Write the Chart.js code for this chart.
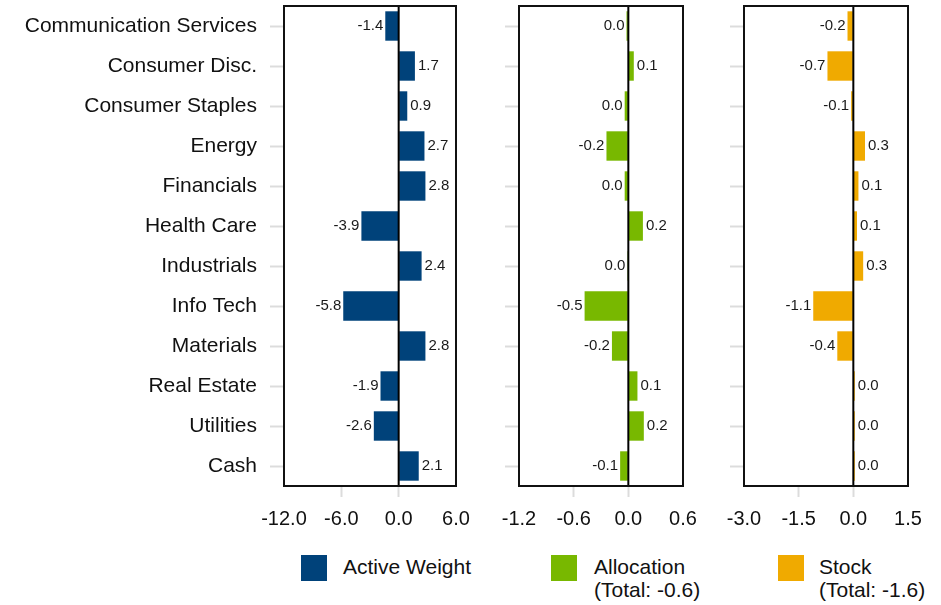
<!DOCTYPE html>
<html>
<head>
<meta charset="utf-8">
<title>Sector Attribution</title>
<script src="https://cdn.jsdelivr.net/npm/chart.js@4.4.1/dist/chart.umd.min.js"></script>
<style>
  body { margin: 0; background: #fff; font-family: "Liberation Sans", Arial, sans-serif; }
  #wrap { position: relative; width: 941px; height: 605px; overflow: hidden; }
  #wrap canvas { position: absolute; top: 0; }
  .swatch { position: absolute; top: 555px; width: 26px; height: 26px; }
  .key { position: absolute; top: 555px; font-size: 21px; line-height: 23px; color: #111; white-space: nowrap; }
</style>
</head>
<body>
<div id="wrap">
  <canvas id="weightChart" width="470" height="540" style="left:0px"></canvas>
  <canvas id="allocChart" width="230" height="540" style="left:470px"></canvas>
  <canvas id="stockChart" width="241" height="540" style="left:700px"></canvas>

  <div class="swatch" style="left:301px; background:#00427a"></div>
  <div class="key" id="keyWeight" style="left:343px"></div>
  <div class="swatch" style="left:551px; background:#78b800"></div>
  <div class="key" id="keyAlloc" style="left:594px"></div>
  <div class="swatch" style="left:778px; background:#f0aa00"></div>
  <div class="key" id="keyStock" style="left:819px"></div>
</div>

<script>
// sectors, top to bottom
const sectors = [
  'Communication Services', 'Consumer Disc.', 'Consumer Staples', 'Energy',
  'Financials', 'Health Care', 'Industrials', 'Info Tech',
  'Materials', 'Real Estate', 'Utilities', 'Cash'
];

// active weight vs benchmark (%)
const activeWeight = [-1.4, 1.7, 0.9, 2.7, 2.8, -3.9, 2.4, -5.8, 2.8, -1.9, -2.6, 2.1];
// allocation effect (%)
const allocation = [-0.02, 0.06, -0.04, -0.24, -0.04, 0.16, -0.01, -0.48, -0.18, 0.1, 0.17, -0.09];
// stock selection effect (%)
const stockSelection = [-0.16, -0.71, -0.06, 0.32, 0.14, 0.1, 0.27, -1.1, -0.44, 0.04, 0.04, 0.04];

const allocationTotal = -0.6;
const stockTotal = -1.6;

// x axis ranges: [min, max, step]
const weightTicks = [-12, 6, 6];
const allocTicks = [-1.2, 0.6, 0.6];
const stockTicks = [-3, 1.5, 1.5];

const FONT = '"Liberation Sans", Arial, sans-serif';

function fmt(v) {
  const s = v.toFixed(1);
  return s === '-0.0' ? '0.0' : s;
}

// zero line, value labels and the box round each panel
const panelDecor = {
  id: 'panelDecor',
  afterDatasetsDraw(chart) {
    const { ctx, chartArea, scales } = chart;
    const zeroX = scales.x.getPixelForValue(0);
    ctx.save();
    ctx.strokeStyle = '#000';
    ctx.lineWidth = 2;
    ctx.beginPath();
    ctx.moveTo(zeroX, chartArea.top);
    ctx.lineTo(zeroX, chartArea.bottom);
    ctx.stroke();

    ctx.font = '15px ' + FONT;
    ctx.fillStyle = '#1a1a1a';
    ctx.textBaseline = 'middle';
    const values = chart.data.datasets[0].data;
    chart.getDatasetMeta(0).data.forEach((bar, i) => {
      const v = values[i];
      if (v < 0) {
        ctx.textAlign = 'right';
        ctx.fillText(fmt(v), bar.x - 2, bar.y);
      } else {
        ctx.textAlign = 'left';
        ctx.fillText(fmt(v), bar.x + 3, bar.y);
      }
    });

    ctx.strokeStyle = '#111';
    ctx.lineWidth = 2;
    ctx.strokeRect(chartArea.left, chartArea.top, chartArea.width, chartArea.height);
    ctx.restore();
  }
};

function makePanel(id, values, color, range, showNames, yWidth, padRight) {
  const [min, max, step] = range;
  return new Chart(document.getElementById(id), {
    type: 'bar',
    data: {
      labels: sectors,
      datasets: [{
        data: values,
        backgroundColor: color,
        borderWidth: 0,
        barPercentage: 0.735,
        categoryPercentage: 1
      }]
    },
    options: {
      indexAxis: 'y',
      responsive: false,
      animation: false,
      devicePixelRatio: 1,
      layout: { padding: { top: 6, right: padRight, bottom: 0, left: 0 } },
      plugins: { legend: { display: false }, tooltip: { enabled: false } },
      scales: {
        x: {
          min: min,
          max: max,
          ticks: {
            stepSize: step,
            maxRotation: 0,
            padding: 10,
            color: '#111',
            font: { family: FONT, size: 20 },
            callback: v => v.toFixed(1)
          },
          grid: {
            drawOnChartArea: false,
            tickLength: 11,
            tickWidth: 2,
            tickColor: c => (c.index === 0 || c.index === c.scale.ticks.length - 1) ? 'rgba(0,0,0,0)' : '#dcdcdc'
          },
          border: { display: false },
          afterFit: s => { s.height = 54; s.paddingLeft = 0; s.paddingRight = 0; }
        },
        y: {
          ticks: {
            display: showNames,
            padding: 13,
            color: '#111',
            font: { family: FONT, size: 21 }
          },
          grid: {
            offset: false,
            drawOnChartArea: false,
            tickLength: 14,
            tickWidth: 2,
            tickColor: '#dcdcdc'
          },
          border: { display: false },
          afterFit: s => { s.width = yWidth; s.paddingTop = 0; s.paddingBottom = 0; }
        }
      }
    },
    plugins: [panelDecor]
  });
}

makePanel('weightChart', activeWeight, '#00427a', weightTicks, true, 284, 14);
makePanel('allocChart', allocation, '#78b800', allocTicks, false, 49, 17);
makePanel('stockChart', stockSelection, '#f0aa00', stockTicks, false, 44, 33);

document.getElementById('keyWeight').textContent = 'Active Weight';
document.getElementById('keyAlloc').innerHTML = 'Allocation<br>(Total: ' + fmt(allocationTotal) + ')';
document.getElementById('keyStock').innerHTML = 'Stock<br>(Total: ' + fmt(stockTotal) + ')';
</script>
</body>
</html>
